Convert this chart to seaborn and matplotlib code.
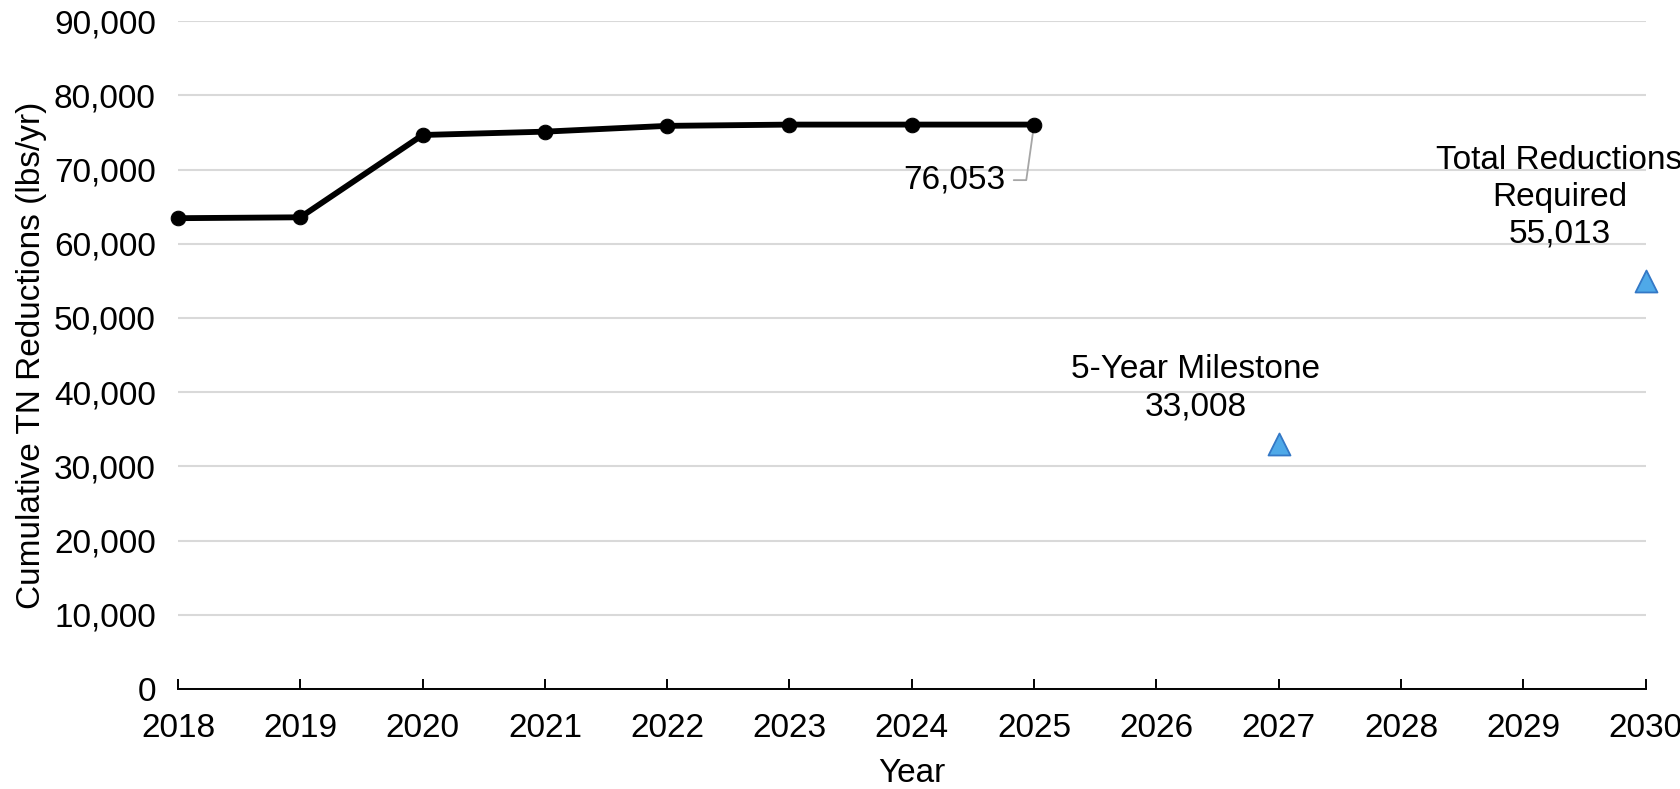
import matplotlib
matplotlib.use("Agg")
import matplotlib.pyplot as plt
from matplotlib.ticker import FuncFormatter, MultipleLocator
import seaborn as sns
import pandas as pd

# Cumulative total nitrogen reductions achieved to date
years = [2018, 2019, 2020, 2021, 2022, 2023, 2024, 2025]
reductions = [63440, 63560, 74650, 75100, 75880, 76050, 76053, 76053]

# Targets
target_years = [2027, 2030]
target_values = [33008, 55013]
target_names = ["5-Year Milestone", "Total Reductions\nRequired"]

sns.set_theme(style="white")
plt.rcParams["font.family"] = ["Liberation Sans", "DejaVu Sans"]
FS = 24

fig = plt.figure(figsize=(16.81, 7.89), dpi=100)
ax = fig.add_axes([0.1059, 0.1267, 0.8730, 0.8466])

df = pd.DataFrame({"Year": years, "Reductions": reductions})
tdf = pd.DataFrame({"Year": target_years, "Reductions": target_values})

sns.lineplot(data=df, x="Year", y="Reductions", ax=ax, color="black",
             linewidth=4.2, marker="o", markersize=10.5, markeredgecolor="black",
             clip_on=False, zorder=4)
sns.scatterplot(data=tdf, x="Year", y="Reductions", ax=ax, marker="^",
                s=250, color="#4fa9e8", edgecolor="#3478c6", linewidth=1.3,
                clip_on=False, zorder=5)

ax.set_xlim(2018, 2030)
ax.set_ylim(0, 90000)
ax.xaxis.set_major_locator(MultipleLocator(1))
ax.yaxis.set_major_locator(MultipleLocator(10000))
ax.yaxis.set_major_formatter(FuncFormatter(lambda v, p: f"{int(v):,}"))

ax.grid(axis="y", color="#d9d9d9", linewidth=1.5)
ax.grid(axis="x", visible=False)
ax.set_axisbelow(True)
for side in ("left", "right", "top"):
    ax.spines[side].set_visible(False)
ax.spines["bottom"].set_color("black")
ax.spines["bottom"].set_linewidth(1.4)
ax.spines["bottom"].set_zorder(3)

ax.tick_params(axis="x", direction="in", length=7, width=1.4, color="black",
               labelsize=FS, pad=17, bottom=True)
ax.tick_params(axis="y", length=0, labelsize=FS, pad=16)
for lbl in ax.get_xticklabels() + ax.get_yticklabels():
    lbl.set_color("black")

ax.set_xlabel("Year", fontsize=FS, color="black", labelpad=10)
ax.set_ylabel("Cumulative TN Reductions (lbs/yr)", fontsize=FS, color="black",
              labelpad=5)

# Value label for the latest year
ax.annotate(f"{reductions[-1]:,}", xy=(years[-1], reductions[-1]),
            xytext=(-21, -40), textcoords="offset points",
            ha="right", va="center", fontsize=FS, color="black",
            arrowprops=dict(arrowstyle="-", color="#a6a6a6", lw=1.3,
                            shrinkA=4, shrinkB=3, relpos=(1, 0.5),
                            connectionstyle="angle,angleA=0,angleB=82,rad=0"))

# Target labels
ax.annotate(f"{target_names[0]}\n{target_values[0]:,}",
            xy=(target_years[0], target_values[0]), xytext=(-60, 40),
            textcoords="offset points", ha="center", va="center",
            multialignment="center", fontsize=FS, color="black",
            linespacing=1.25, annotation_clip=False)
ax.annotate(f"{target_names[1]}\n{target_values[1]:,}",
            xy=(target_years[1], target_values[1]), xytext=(-62, 60),
            textcoords="offset points", ha="center", va="center",
            multialignment="center", fontsize=FS, color="black",
            linespacing=1.25, annotation_clip=False)

fig.savefig("out.png", dpi=100)
